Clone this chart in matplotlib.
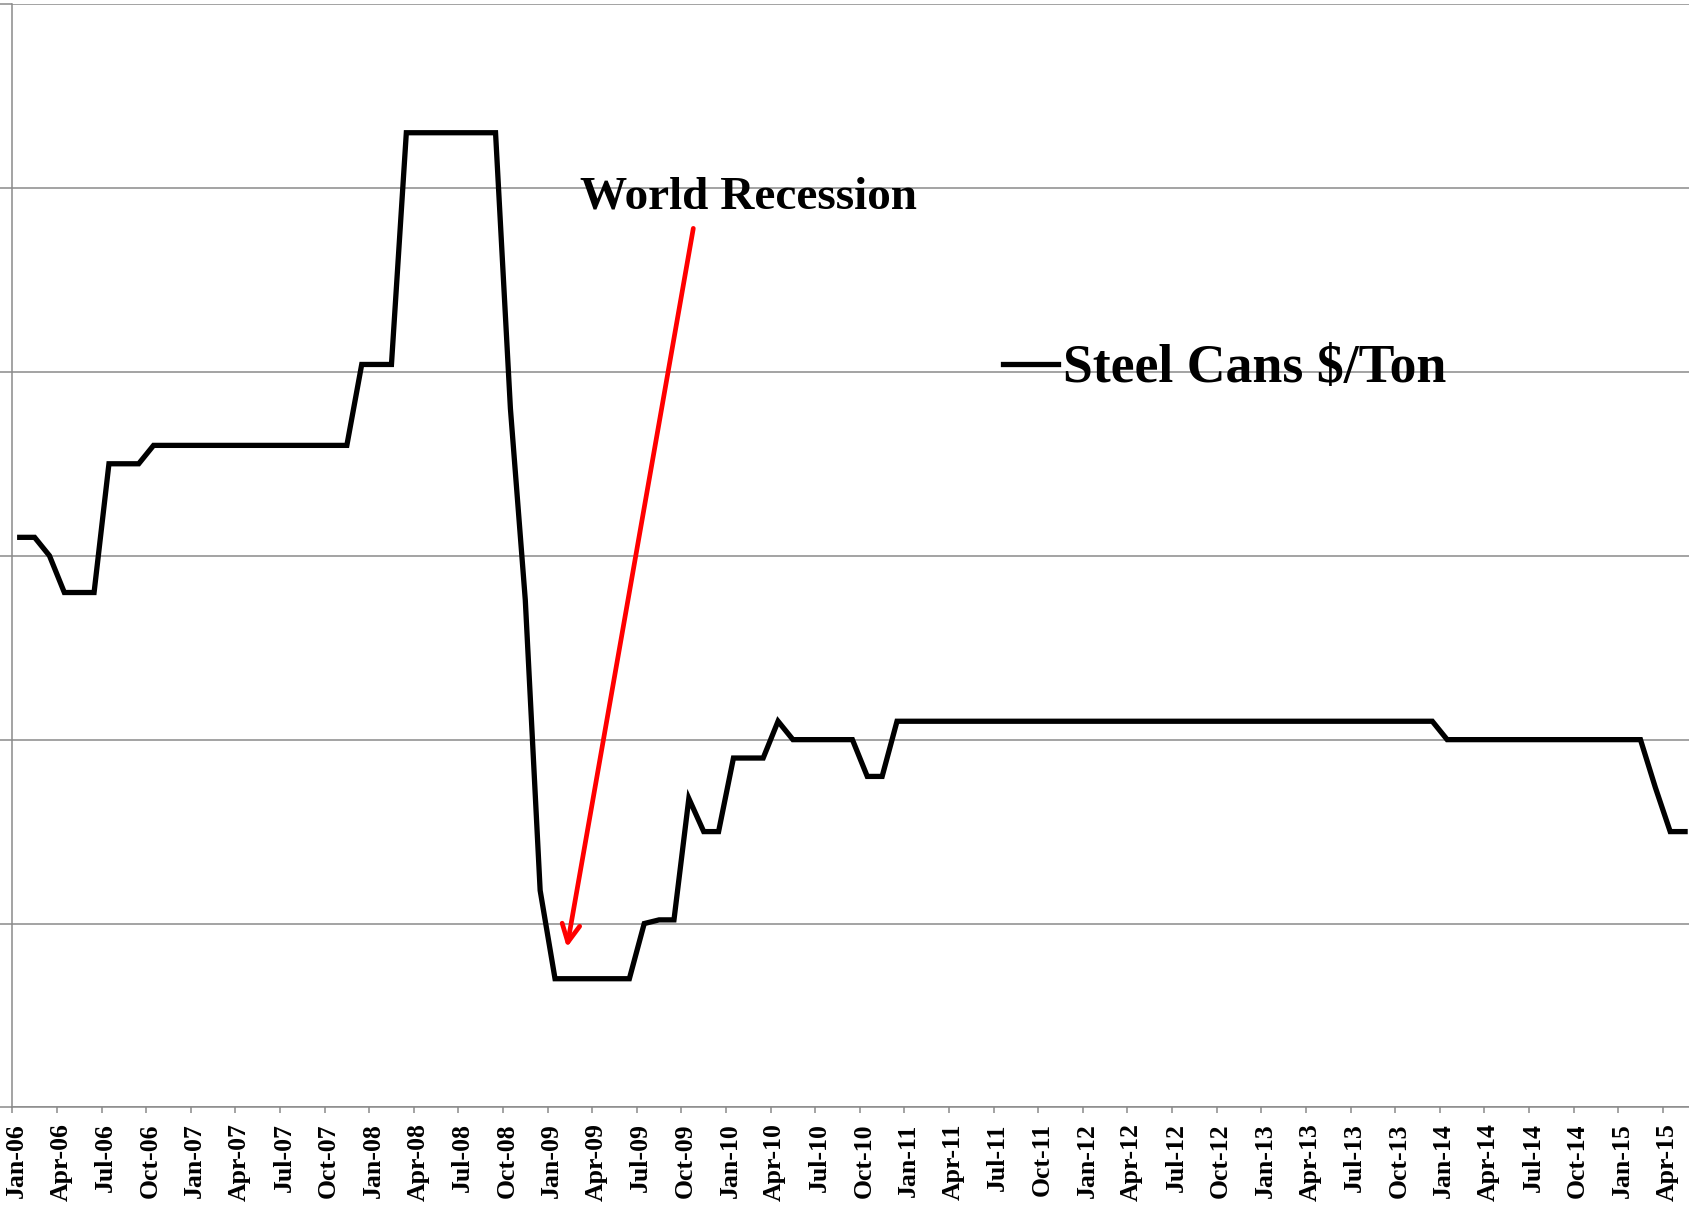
import pandas as pd
import matplotlib
matplotlib.use("Agg")
import matplotlib.pyplot as plt
import matplotlib.transforms as mtransforms

# monthly steel can price, Jan-06 .. May-15
prices = [
    155, 155, 150, 140, 140, 140, 175, 175, 175,
    180, 180, 180, 180, 180, 180, 180, 180, 180, 180, 180, 180, 180, 180,
    202, 202, 202,
    265, 265, 265, 265, 265, 265, 265,
    190, 138, 59,
    35, 35, 35, 35, 35, 35,
    50, 51, 51, 84, 75, 75,
    95, 95, 95, 105,
    100, 100, 100, 100, 100,
    90, 90,
    105, 105, 105, 105, 105, 105, 105, 105, 105, 105, 105, 105, 105,
    105, 105, 105, 105, 105, 105, 105, 105, 105, 105, 105, 105, 105,
    105, 105, 105, 105, 105, 105, 105, 105, 105, 105, 105,
    100, 100, 100, 100, 100, 100, 100, 100, 100, 100, 100, 100, 100, 100,
    87, 75, 75,
]
months = pd.date_range("2006-01-01", periods=len(prices), freq="MS")
month_labels = [d.strftime("%b-%y") for d in months]
tick_every = 3

series_name = "Steel Cans $/Ton"
note_text = "World Recession"

plt.rcParams["font.family"] = ["Liberation Serif", "DejaVu Serif"]
plt.rcParams["font.weight"] = "bold"

fig = plt.figure(figsize=(16.89, 12.11), dpi=100)
ax = fig.add_axes([0.00728, 0.0855, 0.9948, 0.9112])

x = list(range(len(prices)))
ax.plot(x, prices, color="black", lw=3.8, solid_joinstyle="miter", label=series_name, zorder=3)

ax.set_xlim(-0.5, len(prices) - 0.5)
ax.set_ylim(0, 300)
ax.set_yticks(range(0, 301, 50))
ax.yaxis.grid(True, color="#8a8a8a", lw=1.1)
ax.set_axisbelow(True)
ax.tick_params(axis="y", length=8.6, width=1.1, color="#8a8a8a", labelleft=False)

tick_pos = [i - 0.5 for i in range(0, len(prices), tick_every)]
tick_lab = [month_labels[i] for i in range(0, len(prices), tick_every)]
ax.set_xticks(tick_pos)
ax.set_xticklabels(tick_lab, rotation=90, fontsize=18.5, fontweight="bold")
ax.tick_params(axis="x", length=4.3, width=1.1, color="#8a8a8a", pad=7)
shift = mtransforms.ScaledTranslation(4 / 100, 0, fig.dpi_scale_trans)
for lab in ax.get_xticklabels():
    lab.set_transform(lab.get_transform() + shift)

for side in ["top", "right"]:
    ax.spines[side].set_visible(False)
for side in ["left", "bottom"]:
    ax.spines[side].set_color("#8a8a8a")
    ax.spines[side].set_linewidth(1.1)

# annotation
ax.annotate("", xy=(36.8, 43.5), xytext=(45.3, 239),
            arrowprops=dict(arrowstyle="->", color="red", lw=3.4,
                            mutation_scale=32, shrinkA=0, shrinkB=0))
ax.text(49.0, 244.3, note_text, ha="center", va="baseline",
        fontsize=34, fontweight="bold", zorder=4)

ax.legend(loc="center left", bbox_to_anchor=(0.594, 0.695), bbox_transform=fig.transFigure,
          frameon=False, borderpad=0, borderaxespad=0, handlelength=1.02, handletextpad=0.1,
          prop={"size": 38.7, "weight": "bold"})

fig.savefig("out.png", dpi=100)
plt.close()
